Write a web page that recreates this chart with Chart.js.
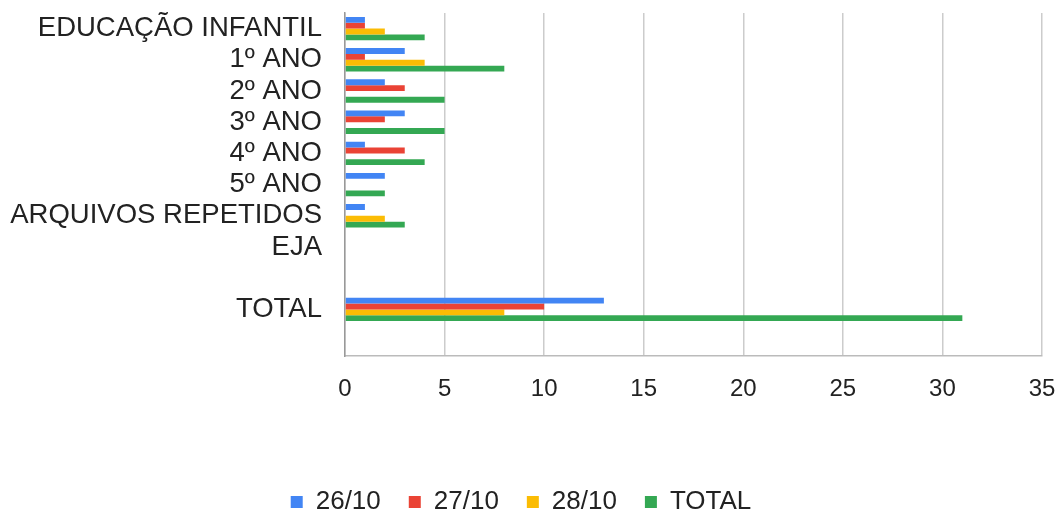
<!DOCTYPE html>
<html>
<head>
<meta charset="utf-8">
<script src="https://cdn.jsdelivr.net/npm/chart.js@4.4.1/dist/chart.umd.min.js"></script>
<style>
  html, body { margin: 0; padding: 0; background: #fff; }
  #wrap { width: 1060px; height: 515px; }
</style>
</head>
<body>
<div id="wrap"><canvas id="chart"></canvas></div>
<script>
const categories = ['EDUCAÇÃO INFANTIL', '1º ANO', '2º ANO', '3º ANO', '4º ANO', '5º ANO', 'ARQUIVOS REPETIDOS', 'EJA', '', 'TOTAL', ''];
const day26 = [1, 3, 2, 3, 1, 2, 1, 0, null, 13, null];
const day27 = [1, 1, 3, 2, 3, 0, 0, 0, null, 10, null];
const day28 = [2, 4, 0, 0, 0, 0, 2, 0, null, 8, null];
const totals = [4, 8, 5, 5, 4, 2, 3, 0, null, 31, null];
const xTicks = [0, 5, 10, 15, 20, 25, 30, 35];

const font = "'Liberation Sans', Arial, sans-serif";

function series(label, data, color) {
  return {
    label: label,
    data: data,
    backgroundColor: color,
    borderWidth: 0,
    barPercentage: 1.0,
    categoryPercentage: 0.75
  };
}

const ctx = document.getElementById('chart').getContext('2d');
new Chart(ctx, {
  type: 'bar',
  data: {
    labels: categories,
    datasets: [
      series('26/10', day26, '#4285F4'),
      series('27/10', day27, '#EA4335'),
      series('28/10', day28, '#FBBC04'),
      series('TOTAL', totals, '#34A853')
    ]
  },
  options: {
    indexAxis: 'y',
    responsive: true,
    maintainAspectRatio: false,
    animation: false,
    layout: { padding: { left: 0, right: 18, top: 13, bottom: -10 } },
    scales: {
      x: {
        min: 0,
        max: 35,
        afterBuildTicks: function(axis) { axis.ticks = xTicks.map(v => ({ value: v })); },
        afterFit: function(axis) {
          axis.height += 38;
          axis.paddingLeft = 0;
          axis.paddingRight = 0;
        },
        grid: { color: '#cccccc', lineWidth: 1.5, drawTicks: false },
        border: { color: '#bbbbbb', width: 1.5 },
        ticks: { color: '#222', padding: 19, font: { family: font, size: 24 } }
      },
      y: {
        afterFit: function(axis) {
          axis.width = 345;
          axis.paddingTop = 0;
          axis.paddingBottom = 0;
        },
        grid: { display: false, drawTicks: false },
        border: { color: '#999999', width: 1.5 },
        ticks: { color: '#222', padding: 23, autoSkip: false, font: { family: font, size: 27.5 } }
      }
    },
    plugins: {
      legend: {
        position: 'bottom',
        labels: {
          boxWidth: 12,
          boxHeight: 12,
          padding: 28,
          color: '#222',
          font: { family: font, size: 26 }
        }
      },
      tooltip: { enabled: false }
    }
  }
});
</script>
</body>
</html>
